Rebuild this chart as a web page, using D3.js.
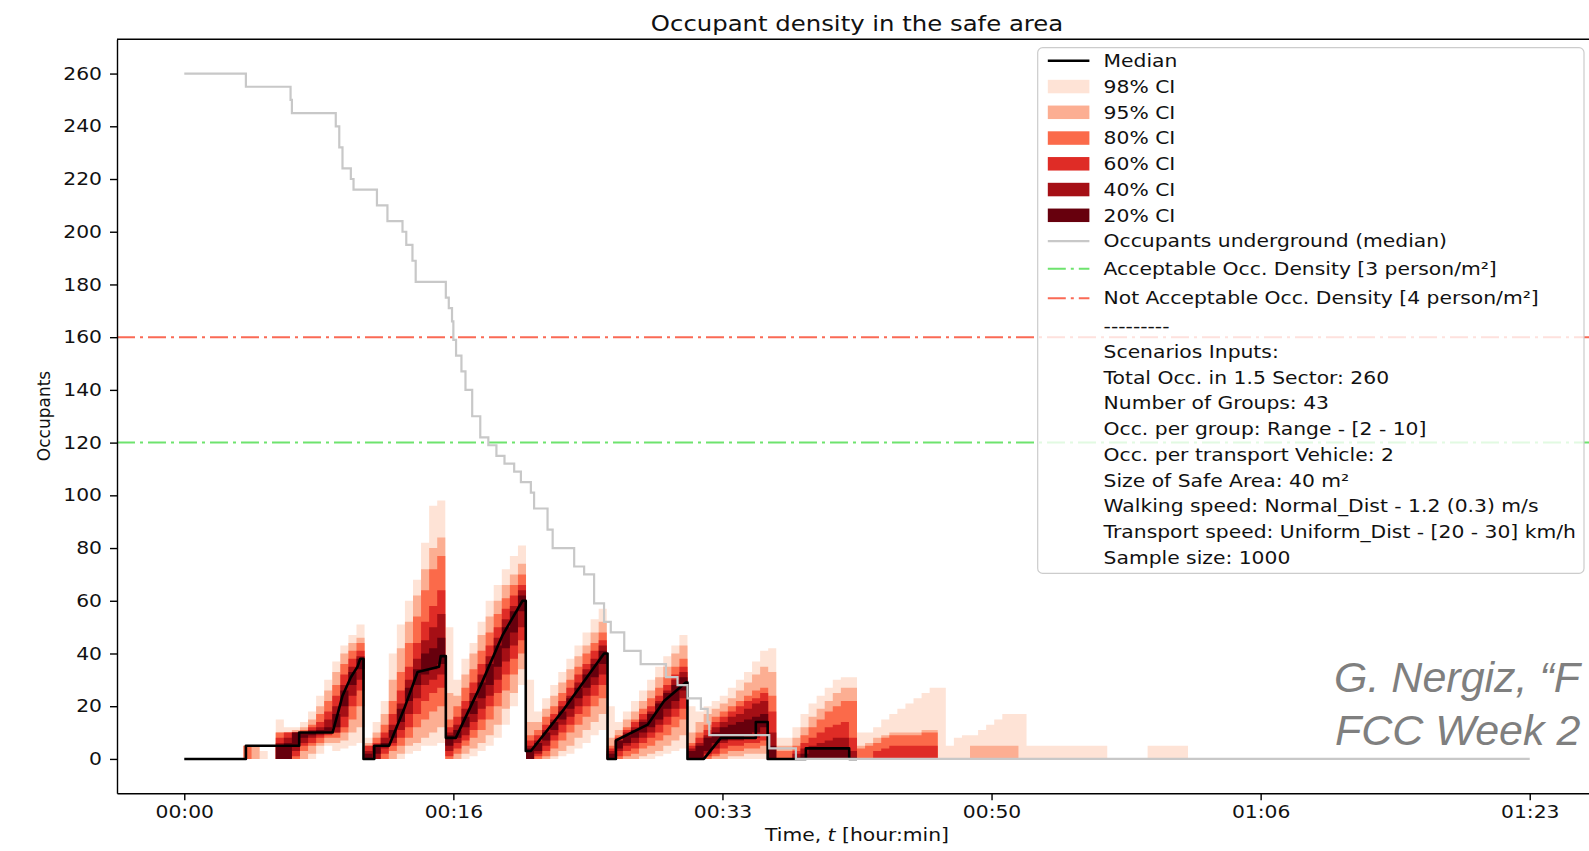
<!DOCTYPE html>
<html>
<head>
<meta charset="utf-8">
<script src="https://cdn.jsdelivr.net/npm/d3@7"></script>
<style>
  body { margin: 0; background: #fff; overflow: hidden; }
  svg text { font-family: "DejaVu Sans", sans-serif; fill: #111; }
</style>
</head>
<body>
<script>
// ---- data (time in seconds) ----
const times = [10,40,70,100,130,160,190,220,250,280,
  310,340,370,400,430,460,490,520,550,580,
  610,640,670,700,730,760,790,820,850,880,
  910,940,970,1000,1030,1060,1090,1120,1150,1180,
  1210,1240,1270,1300,1330,1360,1390,1420,1450,1480,
  1510,1540,1570,1600,1630,1660,1690,1720,1750,1780,
  1810,1840,1870,1900,1930,1960,1990,2020,2050,2080,
  2110,2140,2170,2200,2230,2260,2290,2320,2350,2380,
  2410,2440,2470,2500,2530,2560,2590,2620,2650,2680,
  2710,2740,2770,2800,2830,2860,2890,2920,2950,2980,
  3010,3040,3070,3100,3130,3160,3190,3220,3250,3280,
  3310,3340,3370,3400,3430,3460,3490,3520,3550,3580,
  3610,3640,3670,3700,3730,3760];

const hi98 = [0,0,0,0,0,0,0,5,5,3, 0,15,12,12,14,18,24,30,37,43, 47,51,8,14,22,40,51,60,68,82,
  96,98,50,30,38,44,52,60,66,72, 77,81,30,18,23,28,33,38,43,48, 53,57,20,14,18,22,26,30,35,39,
  43,47,20,18,20,22,24,27,30,33, 37,41,42,8,8,12,17,21,24,27, 30,31,31,10,10,12,15,17,19,21,
  23,25,27,27,5,8,9,9,11,13, 15,17,17,17,5,5,5,5,5,5, 5,5,5,5,0,0,0,0,0,5, 5,5,5,5,0,0];
const hi95 = [0,0,0,0,0,0,0,5,5,0, 0,10,10,11,12,15,20,26,33,40, 44,46,6,10,17,30,42,52,62,72,
  80,84,25,24,32,40,47,54,60,66, 70,74,14,14,19,24,29,34,39,43, 48,52,8,11,15,18,22,26,31,35,
  40,43,10,14,17,19,21,23,26,29, 32,35,33,5,5,8,12,16,19,22, 25,27,27,5,6,8,9,10,10,10,
  10,11,11,0,0,0,0,5,5,5, 5,5,5,0,0,0,0,0,0,0, 0,0,0,0,0,0,0,0,0,0, 0,0,0,0,0,0];
const hi80 = [0,0,0,0,0,0,0,5,0,0, 0,10,10,10,11,13,17,22,28,36, 41,44,5,8,13,22,33,44,54,64,
  72,77,15,20,27,34,41,48,55,61, 66,70,9,11,16,20,25,30,35,40, 44,48,5,9,12,15,19,23,27,31,
  35,38,6,10,13,16,18,20,22,24, 26,27,24,3,3,5,9,12,15,18, 20,22,22,4,5,6,8,9,9,9,
  9,10,10,0,0,0,0,0,0,0, 0,0,0,0,0,0,0,0,0,0, 0,0,0,0,0,0,0,0,0,0, 0,0,0,0,0,0];
const hi60 = [0,0,0,0,0,0,0,0,0,0, 0,8,10,10,10,12,14,18,24,32, 38,41,5,6,10,17,26,35,44,52,
  58,64,12,16,22,29,36,43,50,57, 62,66,7,9,13,17,22,27,32,36, 41,45,4,8,11,14,17,20,24,28,
  32,35,5,8,11,14,16,18,20,22, 23,25,18,0,0,3,6,8,10,12, 13,14,8,0,0,3,4,5,5,5,
  5,5,5,0,0,0,0,0,0,0, 0,0,0,0,0,0,0,0,0,0, 0,0,0,0,0,0,0,0,0,0, 0,0,0,0,0,0];
const hi40 = [0,0,0,0,0,0,0,0,0,0, 0,6,8,10,10,11,12,15,20,28, 35,39,3,5,8,13,21,30,38,45,
  50,55,10,13,19,25,32,39,46,53, 58,64,5,7,11,15,20,24,29,34, 38,43,3,7,10,12,15,18,22,26,
  30,33,4,6,9,12,14,16,17,19, 21,22,10,0,0,2,4,5,6,7, 8,8,3,0,0,0,0,0,0,0,
  0,0,0,0,0,0,0,0,0,0, 0,0,0,0,0,0,0,0,0,0, 0,0,0,0,0,0,0,0,0,0, 0,0,0,0,0,0];
const hi20 = [0,0,0,0,0,0,0,0,0,0, 0,5,6,10,10,10,11,12,17,26, 33,38,2,5,6,11,19,27,34,40,
  42,46,9,11,16,22,29,36,43,50, 56,62,4,6,10,14,18,23,27,32, 36,41,2,7,9,11,14,17,21,25,
  28,31,3,5,8,10,12,13,14,15, 16,17,5,0,0,0,2,4,4,4, 4,4,0,0,0,0,0,0,0,0,
  0,0,0,0,0,0,0,0,0,0, 0,0,0,0,0,0,0,0,0,0, 0,0,0,0,0,0,0,0,0,0, 0,0,0,0,0,0];
const lo20 = [0,0,0,0,0,0,0,0,0,0, 0,0,0,5,8,9,10,10,12,20, 28,34,0,2,5,8,14,22,28,32,
  34,36,5,8,12,17,23,28,35,42, 48,56,0,3,7,11,15,19,23,27, 31,36,0,4,6,8,10,12,15,19,
  22,26,0,0,3,6,7,8,8,9, 10,12,0,0,0,0,0,0,0,0, 0,0,0,0,0,0,0,0,0,0,
  0,0,0,0,0,0,0,0,0,0, 0,0,0,0,0,0,0,0,0,0, 0,0,0,0,0,0,0,0,0,0, 0,0,0,0,0,0];
const lo40 = [0,0,0,0,0,0,0,0,0,0, 0,0,0,3,6,8,9,10,10,16, 24,30,0,0,4,6,11,17,23,28,
  30,32,3,6,9,14,19,24,30,37, 43,50,0,2,5,9,13,16,20,24, 28,32,0,3,5,6,8,10,13,16,
  19,23,0,0,2,4,6,7,7,8, 8,9,0,0,0,0,0,0,0,0, 0,0,0,0,0,0,0,0,0,0,
  0,0,0,0,0,0,0,0,0,0, 0,0,0,0,0,0,0,0,0,0, 0,0,0,0,0,0,0,0,0,0, 0,0,0,0,0,0];
const lo60 = [0,0,0,0,0,0,0,0,0,0, 0,0,0,1,5,6,8,9,10,12, 20,26,0,0,2,5,8,12,17,22,
  25,27,1,4,7,11,15,20,25,32, 38,45,0,1,3,7,10,13,17,20, 24,28,0,1,3,4,6,8,10,13,
  16,19,0,0,1,2,4,5,5,6, 6,7,0,0,0,0,0,0,0,0, 0,0,0,0,0,0,0,0,0,0,
  0,0,0,0,0,0,0,0,0,0, 0,0,0,0,0,0,0,0,0,0, 0,0,0,0,0,0,0,0,0,0, 0,0,0,0,0,0];
const lo80 = [0,0,0,0,0,0,0,0,0,0, 0,0,0,0,3,5,6,8,8,10, 15,20,0,0,0,3,5,8,12,15,
  18,20,0,2,5,8,11,15,20,26, 32,40,0,0,1,4,7,10,13,16, 20,23,0,0,1,2,4,5,7,9,
  12,15,0,0,0,1,2,3,3,4, 4,5,0,0,0,0,0,0,0,0, 0,0,0,0,0,0,0,0,0,0,
  0,0,0,0,0,0,0,0,0,0, 0,0,0,0,0,0,0,0,0,0, 0,0,0,0,0,0,0,0,0,0, 0,0,0,0,0,0];
const lo95 = [0,0,0,0,0,0,0,0,0,0, 0,0,0,0,0,2,5,6,6,7, 10,12,0,0,0,0,2,5,6,8,
  10,12,0,0,2,4,6,9,13,19, 25,34,0,0,0,1,3,5,8,11, 14,17,0,0,0,0,1,2,3,5,
  7,9,0,0,0,0,0,1,1,2, 2,2,0,0,0,0,0,0,0,0, 0,0,0,0,0,0,0,0,0,0,
  0,0,0,0,0,0,0,0,0,0, 0,0,0,0,0,0,0,0,0,0, 0,0,0,0,0,0,0,0,0,0, 0,0,0,0,0,0];
const lo98 = [0,0,0,0,0,0,0,0,0,0, 0,0,0,0,0,0,2,5,3,4, 5,6,0,0,0,0,0,2,3,5,
  5,6,0,0,0,1,3,5,8,13, 20,28,0,0,0,0,1,2,4,6, 9,11,0,0,0,0,0,0,1,2,
  3,4,0,0,0,0,0,0,0,0, 0,0,0,0,0,0,0,0,0,0, 0,0,0,0,0,0,0,0,0,0,
  0,0,0,0,0,0,0,0,0,0, 0,0,0,0,0,0,0,0,0,0, 0,0,0,0,0,0,0,0,0,0, 0,0,0,0,0,0];

// median occupants in the safe area, [t, value]
const medianPts = [[0,0],[229,0],[229,5],[427,5],[427,10],[551,10],[570,17],[588,24],[619,31],[644,35],
  [654,38],[666,38],[666,0],[706,0],[706,5],[761,5],[817,19],[867,33],[947,35],[953,39],[972,39],[972,8],
  [1009,8],[1102,28],[1183,47],[1257,60],[1269,60],[1269,3],[1288,3],[1412,19],[1560,40],[1573,40],
  [1573,0],[1604,0],[1604,7],[1722,13],[1783,22],[1864,29],[1870,29],[1870,0],[1931,0],[1994,8],
  [2124,8],[2124,14],[2168,14],[2168,0],[2310,0],[2310,4],[2471,4],[2471,0],[2500,0]];

// occupants still underground (median), [t, value]
const undergroundPts = [[0,260],[229,255],[390,255],[395,250],[400,245],[551,245],[563,240],[576,232],
  [588,224],[613,224],[619,220],[629,216],[716,210],[755,204],[811,200],[825,195],[848,189],[860,181],
  [966,181],[972,175],[983,171],[995,166],[1000,159],[1010,153],[1030,147],[1045,140],[1070,130],
  [1100,122],[1130,119],[1160,115],[1190,112],[1226,109],[1251,105],[1288,101],[1300,95],[1337,95],
  [1350,87],[1369,80],[1424,80],[1449,73],[1486,70],[1523,59],[1560,52],[1585,48],[1635,41],[1696,36],
  [1783,36],[1790,31],[1833,28],[1870,23],[1920,19],[1945,14],[1951,9],[2174,4],[2273,0],[5000,0]];

const acceptable = 120, notAcceptable = 160;
const yTicks = [0,20,40,60,80,100,120,140,160,180,200,220,240,260];
const xTicks = [0,1000,2000,3000,4000,5000];
const xTickLabels = ["00:00","00:16","00:33","00:50","01:06","01:23"];

const bandNames = ["98% CI","95% CI","80% CI","60% CI","40% CI","20% CI"];
const bandColors = ["#fee3d6","#fcae92","#fb6a4a","#df2c26","#a50f15","#67000d"];
const bandLo = [lo98, lo95, lo80, lo60, lo40, lo20];
const bandHi = [hi98, hi95, hi80, hi60, hi40, hi20];

const scenarioLines = ["---------","Scenarios Inputs:","Total Occ. in 1.5 Sector: 260","Number of Groups: 43",
  "Occ. per group: Range - [2 - 10]","Occ. per transport Vehicle: 2","Size of Safe Area: 40 m\u00b2",
  "Walking speed: Normal_Dist -  1.2 (0.3) m/s","Transport speed: Uniform_Dist - [20 - 30] km/h","Sample size: 1000"];

// the part of the slide caption that is visible
const captionLines = ["G. Nergiz, \u201cF", "FCC Week 2"];

// ---- drawing ----
const W = 1589, H = 851;
const SX = 1.16;  // the source picture is stretched sideways
const greyCol = "#c8c8c8", greenCol = "#6ee36e", redCol = "#fa6a55";
const dashDot = "18,5,3,5";

const x = d3.scaleLinear().domain([-250, 5250]).range([117, 1597]);
const y = d3.scaleLinear().domain([-13, 273]).range([793.2, 39.3]);

const svg = d3.select("body").append("svg")
  .attr("width", W).attr("height", H)
  .style("display", "block");

function stretch(sel) {
  sel.each(function () {
    const t = d3.select(this);
    const tx = +t.attr("x") || 0, ty = +t.attr("y") || 0;
    t.attr("x", 0).attr("y", 0)
      .attr("transform", `translate(${tx},${ty}) scale(${SX},1)`);
  });
}

// CI bands, widest first
const bandG = svg.append("g");
bandNames.forEach((name, k) => {
  const lo = bandLo[k], hi = bandHi[k];
  const area = d3.area()
    .curve(d3.curveStepAfter)
    .x((d, i) => x(times[i]))
    .y0((d, i) => y(lo[i]))
    .y1((d, i) => y(hi[i]));
  bandG.append("path")
    .datum(times)
    .attr("d", area)
    .attr("fill", bandColors[k]);
});

// threshold lines
[[acceptable, greenCol], [notAcceptable, redCol]].forEach(([v, c]) => {
  svg.append("line")
    .attr("x1", x.range()[0]).attr("x2", x.range()[1])
    .attr("y1", y(v)).attr("y2", y(v))
    .attr("stroke", c).attr("stroke-width", 2)
    .attr("stroke-dasharray", dashDot);
});

// median
svg.append("path")
  .datum(medianPts)
  .attr("d", d3.line().x(d => x(d[0])).y(d => y(d[1])))
  .attr("fill", "none")
  .attr("stroke", "#000")
  .attr("stroke-width", 2.6)
  .attr("stroke-linejoin", "round");

// occupants underground
svg.append("path")
  .datum(undergroundPts)
  .attr("d", d3.line().curve(d3.curveStepAfter).x(d => x(d[0])).y(d => y(d[1])))
  .attr("fill", "none")
  .attr("stroke", greyCol)
  .attr("stroke-width", 2.2);

// axes
const yAxis = svg.append("g")
  .attr("transform", `translate(${x.range()[0]},0)`)
  .call(d3.axisLeft(y).tickValues(yTicks).tickSize(7).tickPadding(8).tickSizeOuter(0));
const xAxis = svg.append("g")
  .attr("transform", `translate(0,${y.range()[0]})`)
  .call(d3.axisBottom(x).tickValues(xTicks).tickFormat((d, i) => xTickLabels[i])
    .tickSize(7).tickPadding(5).tickSizeOuter(0));
[yAxis, xAxis].forEach(a => {
  a.selectAll("path,line").attr("stroke", "#000").attr("stroke-width", 1.4);
  a.selectAll("text").attr("font-size", 17.5).attr("fill", "#111")
    .style("font-family", "'DejaVu Sans', sans-serif");
  stretch(a.selectAll("text"));
});
svg.append("line")
  .attr("x1", x.range()[0]).attr("x2", x.range()[1])
  .attr("y1", y.range()[1]).attr("y2", y.range()[1])
  .attr("stroke", "#000").attr("stroke-width", 1.4);

// titles
stretch(svg.append("text")
  .attr("x", 857).attr("y", 30.5)
  .attr("text-anchor", "middle")
  .attr("font-size", 21)
  .text("Occupant density in the safe area"));

const xl = svg.append("text")
  .attr("x", 857).attr("y", 841)
  .attr("text-anchor", "middle")
  .attr("font-size", 17.5);
xl.append("tspan").text("Time, ");
xl.append("tspan").attr("font-style", "italic").text("t");
xl.append("tspan").text(" [hour:min]");
stretch(xl);

svg.append("text")
  .attr("transform", "translate(44,416) rotate(-90)")
  .attr("text-anchor", "middle")
  .attr("dy", "0.35em")
  .attr("font-size", 17)
  .text("Occupants");

// slide caption laid over the figure
svg.append("g")
  .selectAll("text")
  .data(captionLines)
  .join("text")
  .attr("x", (d, i) => 1334 + i)
  .attr("y", (d, i) => 692 + i * 53)
  .attr("font-size", 43)
  .style("font-family", "'Liberation Sans', Arial, sans-serif")
  .style("font-style", "italic")
  .style("fill", "#7f7f7f")
  .text(d => d);

// legend
const legendRows = [{label: "Median", kind: "line", color: "#000", width: 2.6}]
  .concat(bandNames.map((n, k) => ({label: n, kind: "patch", color: bandColors[k]})))
  .concat([
    {label: "Occupants underground (median)", kind: "line", color: greyCol, width: 2.2},
    {label: "Acceptable Occ. Density [3 person/m\u00b2]", kind: "dash", color: greenCol, tall: true},
    {label: "Not Acceptable Occ. Density [4 person/m\u00b2]", kind: "dash", color: redCol, tall: true}
  ])
  .concat(scenarioLines.map(s => ({label: s, kind: "none"})));

const rowH = 25.75, tallH = 29.5;
let cy = 60.8;
legendRows.forEach((r, i) => {
  if (i > 0) {
    const prev = legendRows[i - 1];
    cy += ((prev.tall ? tallH : rowH) + (r.tall ? tallH : rowH)) / 2;
  }
  r.cy = cy;
});

const lg = svg.append("g");
lg.append("rect")
  .attr("x", 1037.7).attr("y", 47.6)
  .attr("width", 1584 - 1037.7).attr("height", 573.4 - 47.6)
  .attr("rx", 5)
  .attr("fill", "rgba(255,255,255,0.8)")
  .attr("stroke", "#cccccc").attr("stroke-width", 1.2);

const hx0 = 1047.8, hx1 = 1089.4, tx = 1103.6;
legendRows.forEach(r => {
  if (r.kind === "patch") {
    lg.append("rect").attr("x", hx0).attr("y", r.cy - 6.75)
      .attr("width", hx1 - hx0).attr("height", 13.5).attr("fill", r.color);
  } else if (r.kind === "line" || r.kind === "dash") {
    lg.append("line").attr("x1", hx0).attr("x2", hx1)
      .attr("y1", r.cy).attr("y2", r.cy)
      .attr("stroke", r.color).attr("stroke-width", r.width || 2)
      .attr("stroke-dasharray", r.kind === "dash" ? dashDot : null);
  }
  stretch(lg.append("text")
    .attr("x", tx).attr("y", r.cy)
    .attr("dy", "0.36em")
    .attr("font-size", 17.5)
    .text(r.label));
});
</script>
</body>
</html>
